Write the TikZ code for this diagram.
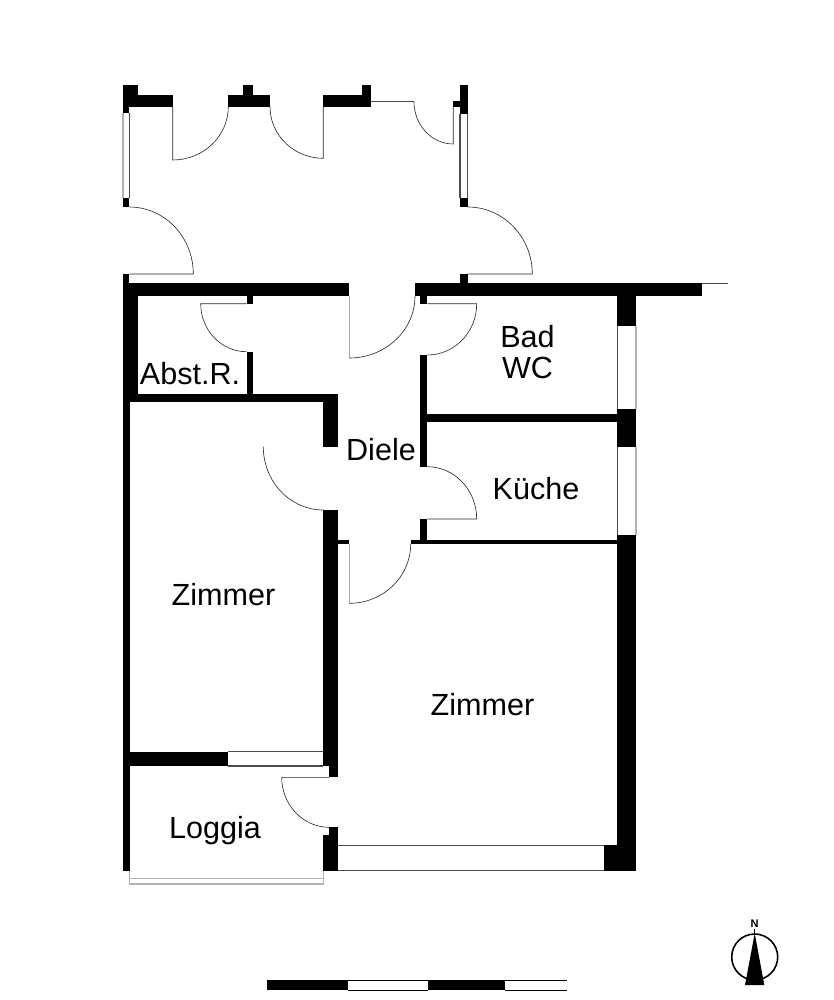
\documentclass[tikz,border=0pt]{standalone}
\usepackage{fontspec}
\setmainfont{Liberation Sans}
\tikzset{
  wall/.style={fill=black},
  door/.style={draw=black!85,line width=0.35pt},
  leaf/.style={draw=black!35,line width=0.4pt},
  glass/.style={draw=black!70,line width=0.6pt},
  paleglass/.style={draw=black!30,line width=0.6pt},
  roomlabel/.style={inner sep=0pt,font=\fontsize{17.4}{17.6}\selectfont,align=center}
}
\begin{document}
\begin{tikzpicture}[x=0.02cm,y=0.02cm]
\useasboundingbox (0,0) rectangle (834,-1000);
% terrace, left side
\fill[wall] (123,-85) rectangle (137.7,-95);
\fill[wall] (123,-95) rectangle (172.7,-106.7);
\fill[wall] (123,-106.7) rectangle (129.3,-113.5);
\fill[wall] (123,-198) rectangle (129.3,-207);
\fill[wall] (123,-274) rectangle (129.3,-283.3);
\draw[paleglass] (123,-113.5) -- (123,-198);
\draw[glass] (129.3,-113.5) -- (129.3,-198);
\draw[door] (129.3,-207) arc (90:0:64 and 67) -- (129.3,-274);
% terrace, front
\fill[wall] (228.3,-95) rectangle (270,-106.7);
\fill[wall] (243.3,-85) rectangle (252.7,-95);
\fill[wall] (323.3,-95) rectangle (371,-106.7);
\fill[wall] (361.7,-85) rectangle (371,-95);
\draw[door] (172.7,-106.7) -- (172.7,-160) arc (-90:0:55.6 and 53.3);
\draw[door] (323.3,-106.7) -- (323.3,-158.3) arc (270:180:53.3 and 51.6);
\draw[glass] (371,-101.7) -- (414,-101.7);
\draw[door] (414,-101.7) arc (180:270:39.3 and 42.3) -- (453.3,-106.7);
% terrace, right side
\fill[wall] (460,-85) rectangle (467.7,-114);
\fill[wall] (453.3,-101) rectangle (460,-106.7);
\fill[wall] (460,-198) rectangle (467.7,-207);
\fill[wall] (460,-274) rectangle (467.7,-283.3);
\draw[glass] (460,-114) -- (460,-198);
\draw[glass] (467.7,-114) -- (467.7,-198);
\draw[door] (467.7,-207) arc (90:0:64.6 and 67) -- (467.7,-274);
% long wall
\fill[wall] (123,-283.3) rectangle (349,-296);
\fill[wall] (415,-283.3) rectangle (701.7,-296);
\draw[glass] (701.7,-283.3) -- (727.7,-283.3);
\draw[leaf] (349.3,-296) -- (349.3,-358);
\draw[door] (349.3,-358) arc (270:360:65.7 and 62);
% outer walls
\fill[wall] (122.7,-296) rectangle (137.5,-394);
\fill[wall] (122.7,-394) rectangle (130,-870.7);
\fill[wall] (617.3,-296) rectangle (636,-325.7);
\fill[wall] (617.3,-409) rectangle (636,-446.7);
\fill[wall] (617.3,-535) rectangle (636,-845);
\fill[wall] (604,-845) rectangle (636,-870.7);
\draw[glass] (617.3,-325.7) -- (617.3,-409);
\draw[paleglass] (636,-325.7) -- (636,-409);
\draw[glass] (617.3,-446.7) -- (617.3,-535);
\draw[paleglass] (636,-446.7) -- (636,-535);
% store room
\fill[wall] (246.7,-296) rectangle (252.7,-304);
\fill[wall] (246.7,-351.7) rectangle (252.7,-394);
\fill[wall] (122.7,-394) rectangle (338.3,-401.7);
\draw[door] (246.7,-303.7) -- (200.7,-303.7) arc (180:270:46 and 48);
% bath and kitchen
\fill[wall] (420,-296) rectangle (427.3,-304);
\fill[wall] (420,-355) rectangle (427.3,-466.7);
\fill[wall] (427.3,-414) rectangle (617.3,-422);
\fill[wall] (420,-519) rectangle (427.3,-540);
\fill[wall] (411,-540) rectangle (617.3,-544);
\draw[door] (427.3,-303.7) -- (476.7,-303.7) arc (0:-90:49.4 and 51.3);
\draw[door] (427.3,-466.7) arc (90:0:49.4 and 52.3) -- (427.3,-519);
% hall wall
\fill[wall] (323.3,-401.7) rectangle (338.3,-446.7);
\fill[wall] (323.3,-510) rectangle (337.7,-766);
\fill[wall] (329.3,-766) rectangle (337.7,-777.3);
\fill[wall] (337.3,-540) rectangle (349.3,-544);
\draw[door] (263.3,-446.7) arc (180:270:60 and 63.3);
\draw[leaf] (349.3,-544) -- (349.3,-603.3);
\draw[door] (349.3,-603.3) arc (270:360:61.4 and 59.3);
% loggia
\fill[wall] (122.7,-751.7) rectangle (228.3,-766);
\draw[glass] (228.3,-751.7) -- (323.3,-751.7);
\draw[glass] (228.3,-766) -- (323.3,-766);
\draw[door] (329.3,-777.3) -- (281.7,-777.3) arc (180:270:47.6 and 50);
\fill[wall] (329.3,-827.3) rectangle (337.7,-835);
\fill[wall] (323.3,-835) rectangle (337.7,-870.7);
\draw[glass] (337.7,-845.7) -- (604,-845.7);
\draw[glass] (337.7,-870.3) -- (604,-870.3);
\draw[paleglass] (129.7,-870.7) -- (129.7,-884) -- (323.3,-884) -- (323.3,-870.7);
\draw[paleglass] (129.7,-878.3) -- (323.3,-878.3);
% room names
\node[roomlabel] (bad) at (527.5,-352.5) {Bad\\WC};
\node[roomlabel] (abst) at (190,-373.5) {Abst.R.};
\node[roomlabel] (diele) at (381,-449.5) {Diele};
\node[roomlabel] (kueche) at (536,-488.5) {Küche};
\node[roomlabel] (zimmera) at (223.5,-594.5) {Zimmer};
\node[roomlabel] (zimmerb) at (482.5,-704.5) {Zimmer};
\node[roomlabel] (loggia) at (215,-830.5) {Loggia};
% north arrow
\draw[black,line width=0.9pt] (754.7,-957) circle (23);
\fill[black] (754.7,-933.3) -- (745,-985) -- (764.3,-985) -- cycle;
\draw[black,line width=0.5pt] (754.7,-933.3) -- (754.7,-929);
\node[inner sep=0pt,font=\fontsize{6.3}{7}\selectfont\bfseries] (north) at (754.7,-924) {N};
% scale bar
\fill[wall] (266.7,-980) rectangle (348.3,-990);
\fill[wall] (428.3,-980) rectangle (505,-990);
\draw[black,line width=0.5pt] (348.3,-980) -- (428.3,-980);
\draw[black,line width=0.5pt] (348.3,-990) -- (428.3,-990);
\draw[black,line width=0.5pt] (505,-980) -- (567.3,-980);
\draw[black,line width=0.5pt] (505,-990) -- (567.3,-990);
\end{tikzpicture}
\end{document}
